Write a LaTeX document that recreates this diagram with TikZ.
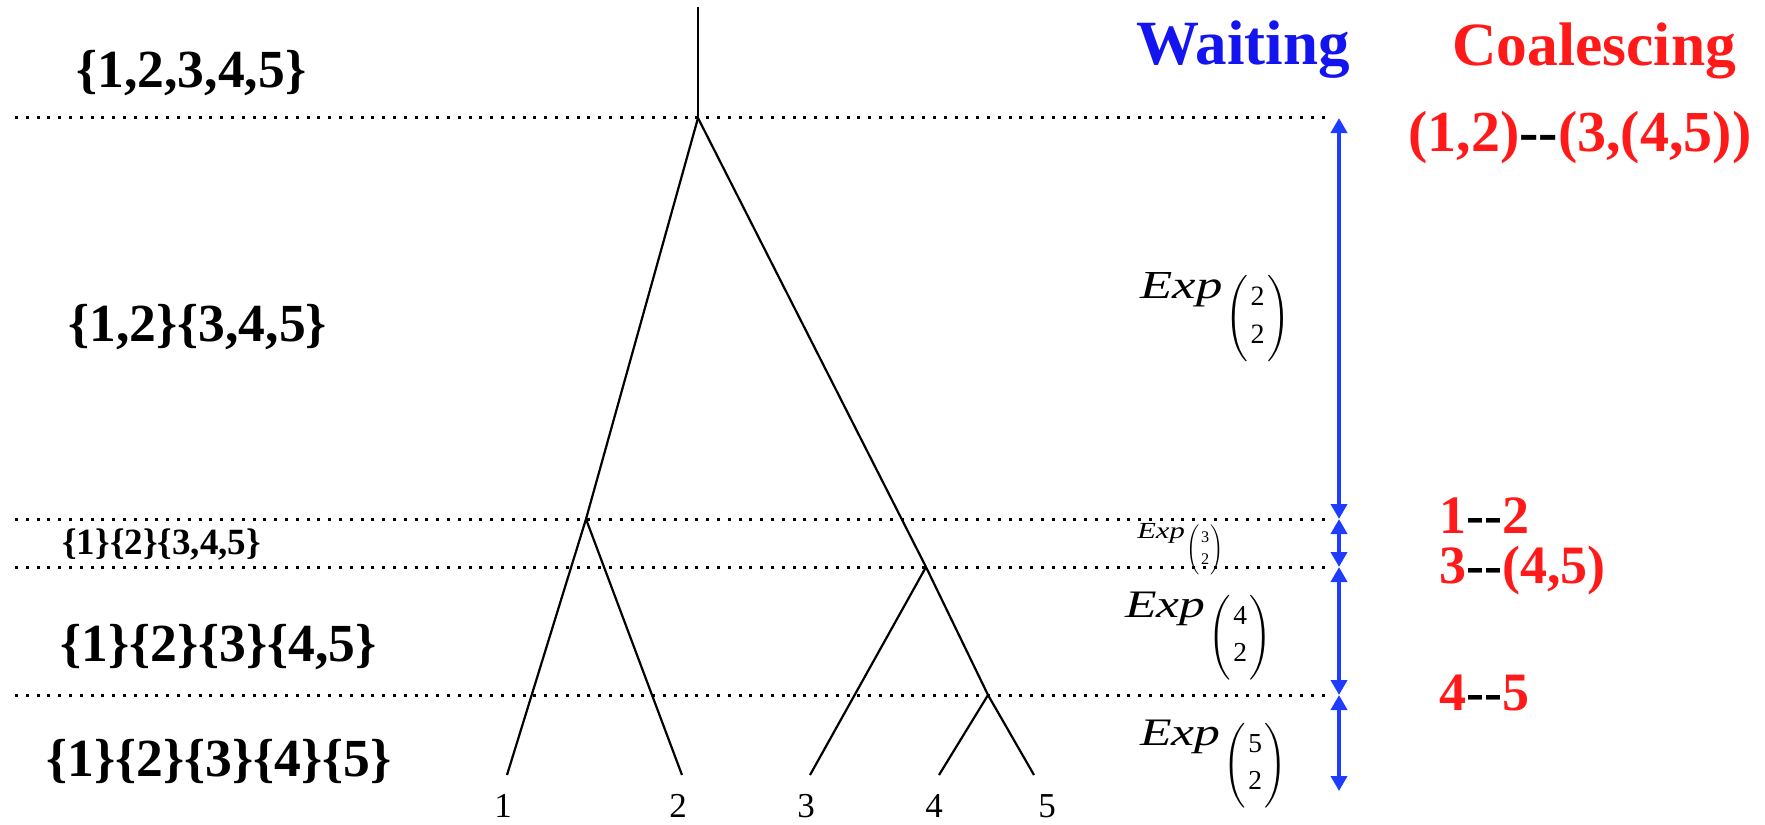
\documentclass[tikz,border=0pt]{standalone}
\usepackage{fontspec}
\usepackage{amsmath}
\usepackage{graphicx}
\setmainfont{Liberation Serif}
\usetikzlibrary{arrows.meta}
\definecolor{wblue}{RGB}{20,20,240}
\definecolor{ablue}{RGB}{30,60,255}
\definecolor{cred}{RGB}{255,25,25}
\newcommand{\dd}{-\kern0pt-}
\newcommand{\bnm}[1]{{\fontsize{14}{14}\selectfont\delimitershortfall=-3pt\delimiterfactor=1000$\left(\vcenter{\hbox{\begin{tabular}{@{\hspace{1.2pt}}c@{\hspace{1.2pt}}}#1\\[5pt]2\end{tabular}}}\right)$}}
\newcommand{\expbody}[1]{\resizebox{41pt}{13pt}{\itshape Exp}\hspace{1.5pt}\raisebox{-14pt}{\bnm{#1}}}
\begin{document}
\begin{tikzpicture}[x=0.5pt,y=-0.5pt,
  branch/.style={line width=1.1pt},
  level/.style={line width=1.5pt, dash pattern=on 1.5pt off 3.9pt},
  wait/.style={ablue, line width=2pt, {Triangle[length=7.5pt,width=8pt]}-{Triangle[length=7.5pt,width=8pt]}},
  biglab/.style={inner sep=0pt, anchor=base west, font=\bfseries\fontsize{26.8}{30}\selectfont},
  smalllab/.style={inner sep=0pt, anchor=base west, font=\bfseries\fontsize{18.5}{22}\selectfont},
  head/.style={inner sep=0pt, anchor=base west, font=\bfseries\fontsize{31.5}{36}\selectfont},
  coal/.style={inner sep=0pt, anchor=base west, font=\bfseries\fontsize{27}{32}\selectfont},
  leaflab/.style={inner sep=0pt, anchor=base, font=\fontsize{17.5}{20}\selectfont},
  explab/.style={inner sep=0pt, anchor=base west, transform shape},
]
\useasboundingbox (0,0) rectangle (1765,824);

% level lines
\foreach \i/\yy in {0/118,1/519,2/567,3/695}{
  \coordinate (h\i a) at (15,\yy);
  \coordinate (h\i b) at (1331,\yy);
  \draw[level] (h\i a) -- (h\i b);
}

% tree
\coordinate (top) at (698,7);
\coordinate (r) at (698,118);
\coordinate (a) at (586,519);
\coordinate (b) at (926,567);
\coordinate (c) at (988,695);
\coordinate (l1) at (507,775);
\coordinate (l2) at (682,775);
\coordinate (l3) at (810,775);
\coordinate (l4) at (939,775);
\coordinate (l5) at (1034,775);
\draw[branch] (top) -- (r);
\draw[branch] (r) -- (a);
\draw[branch] (r) -- (b);
\draw[branch] (a) -- (l1);
\draw[branch] (a) -- (l2);
\draw[branch] (b) -- (l3);
\draw[branch] (b) -- (c);
\draw[branch] (c) -- (l4);
\draw[branch] (c) -- (l5);

\node[leaflab] (n1) at (503,817) {1};
\node[leaflab] (n2) at (678,817) {2};
\node[leaflab] (n3) at (806,817) {3};
\node[leaflab] (n4) at (934,817) {4};
\node[leaflab] (n5) at (1047,817) {5};

% partition labels
\node[biglab] (p1) at (76,88) {\{1,2,3,4,5\}};
\node[biglab] (p2) at (68,341) {\{1,2\}\{3,4,5\}};
\node[smalllab] (p3) at (62,554) {\{1\}\{2\}\{3,4,5\}};
\node[biglab] (p4) at (60,661) {\{1\}\{2\}\{3\}\{4,5\}};
\node[biglab] (p5) at (46,776) {\{1\}\{2\}\{3\}\{4\}\{5\}};

% waiting arrows
\coordinate (w0) at (1339,118);
\coordinate (w1) at (1339,519);
\coordinate (w2) at (1339,567);
\coordinate (w3) at (1339,695);
\coordinate (w4) at (1339,791);
\draw[wait] (w0) -- (w1);
\draw[wait] (w1) -- (w2);
\draw[wait] (w2) -- (w3);
\draw[wait] (w3) -- (w4);

% exp labels
\node[explab] (ea) at (1140,298) {\expbody{2}};
\node[explab, scale=0.58] (eb) at (1137,538) {\expbody{3}};
\node[explab, scale=0.98] (ec) at (1125,617) {\expbody{4}};
\node[explab, scale=0.98] (ed) at (1140,745) {\expbody{5}};

% headers
\node[head, text=wblue] (wt) at (1136,65) {Waiting};
\node[head, text=cred, font=\bfseries\fontsize{30.75}{36}\selectfont] (ct) at (1452,66) {Coalescing};

% coalescing events
\node[coal, font=\bfseries\fontsize{29}{34}\selectfont] (c0) at (1408,151) {\textcolor{cred}{(1,2)}\dd\textcolor{cred}{(3,(4,5))}};
\node[coal] (c1) at (1439,533) {\textcolor{cred}{1}\dd\textcolor{cred}{2}};
\node[coal] (c2) at (1439,583) {\textcolor{cred}{3}\dd\textcolor{cred}{(4,5)}};
\node[coal] (c3) at (1439,710) {\textcolor{cred}{4}\dd\textcolor{cred}{5}};
\end{tikzpicture}
\end{document}
